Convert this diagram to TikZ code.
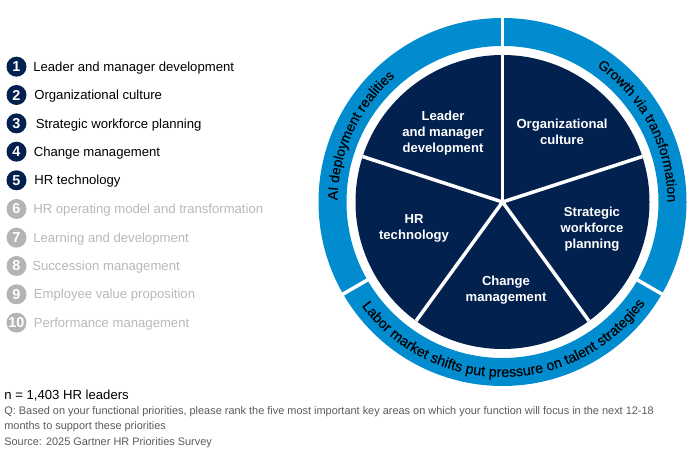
\documentclass[tikz,border=0pt]{standalone}
\usepackage{fontspec}
\usepackage{xcolor}
\usepackage{tikz}
\usetikzlibrary{decorations.text}
\setmainfont{Liberation Sans}
\newfontface\ringface[FakeBold=0.35]{Liberation Sans}
\definecolor{piecolor}{RGB}{2, 33, 79}
\definecolor{ringblue}{RGB}{0, 140, 207}
\definecolor{mutedgray}{RGB}{180, 180, 180}
\definecolor{mutedtext}{RGB}{184, 184, 184}
\definecolor{notegray}{RGB}{90, 90, 90}
\newcommand{\legendfont}{\fontsize{7.47}{9}\selectfont}
\newcommand{\piefont}{\fontsize{7.45}{9.07}\selectfont\bfseries}
\newcommand{\ringfont}{\ringface\fontsize{7.9}{9}\selectfont}
\newcommand{\lowringfont}{\ringface\fontsize{8.15}{9}\selectfont}
\begin{document}
\begin{tikzpicture}[
        topbadge/.style={circle, fill=piecolor, text=white, inner sep=0pt, minimum size=0.4cm, font=\fontsize{8.2}{9}\selectfont\bfseries},
        lowbadge/.style={circle, fill=mutedgray, text=white, inner sep=0pt, minimum size=0.4cm, font=\fontsize{8.2}{9}\selectfont\bfseries},
        toplabel/.style={anchor=west, inner sep=0pt, text=black, font=\legendfont},
        lowlabel/.style={anchor=west, inner sep=0pt, text=mutedtext, font=\legendfont},
        note/.style={anchor=west, inner sep=0pt, align=left, text=notegray, font=\fontsize{6.22}{8.4}\selectfont},
        pielabel/.style={inner sep=0pt, align=center, text=white, font=\piefont},
        spoke/.style={draw=white, line width=0.07cm},
        ringgap/.style={draw=white, line width=0.07cm}
    ]
    \useasboundingbox (0, 0) rectangle (14, 9.1);

    % Legend - top five
    \node[topbadge] (badge1) at (0.33, 7.766) {1};
    \node[topbadge] (badge2) at (0.33, 7.2) {2};
    \node[topbadge] (badge3) at (0.33, 6.632) {3};
    \node[topbadge] (badge4) at (0.33, 6.066) {4};
    \node[topbadge] (badge5) at (0.33, 5.494) {5};
    \node[toplabel] (item1) at (0.66, 7.74) {Leader and manager development};
    \node[toplabel] (item2) at (0.68, 7.175) {Organizational culture};
    \node[toplabel] (item3) at (0.71, 6.605) {Strategic workforce planning};
    \node[toplabel] (item4) at (0.67, 6.04) {Change management};
    \node[toplabel] (item5) at (0.68, 5.47) {HR technology};

    % Legend - the rest, greyed out
    \node[lowbadge] (badge6) at (0.33, 4.92) {6};
    \node[lowbadge] (badge7) at (0.33, 4.346) {7};
    \node[lowbadge] (badge8) at (0.33, 3.78) {8};
    \node[lowbadge] (badge9) at (0.33, 3.214) {9};
    \node[lowbadge] (badge10) at (0.33, 2.646) {10};
    \node[lowlabel] (item6) at (0.66, 4.895) {HR operating model and transformation};
    \node[lowlabel] (item7) at (0.66, 4.32) {Learning and development};
    \node[lowlabel] (item8) at (0.64, 3.755) {Succession management};
    \node[lowlabel] (item9) at (0.67, 3.19) {Employee value proposition};
    \node[lowlabel] (item10) at (0.67, 2.62) {Performance management};

    % Footer notes
    \node[anchor=west, inner sep=0pt, text=black, font=\legendfont] (sample) at (0.08, 1.19) {n = 1,403 HR leaders};
    \node[note] (question) at (0.08, 0.71) {Q: Based on your functional priorities, please rank the five most important key areas on which your function will focus in the next 12-18\\ months to support these priorities};
    \node[note] (source) at (0.08, 0.25) {Source: 2025 Gartner HR Priorities Survey};

    % Outer ring and pie
    \coordinate (hub) at (10.05, 5.06);
    \node[circle, draw=ringblue, line width=0.56cm, minimum size=6.8cm, inner sep=0pt, outer sep=0pt] (ring) at (hub) {};
    \node[circle, fill=piecolor, minimum size=5.88cm, inner sep=0pt, outer sep=0pt] (pie) at (hub) {};

    % Pie spokes
    \draw[spoke] (pie.center) -- (pie.90);
    \draw[spoke] (pie.center) -- (pie.18);
    \draw[spoke] (pie.center) -- (pie.-54);
    \draw[spoke] (pie.center) -- (pie.-126);
    \draw[spoke] (pie.center) -- (pie.162);

    % Gaps in the ring
    \path (hub) ++(90:3.06) coordinate (gapA) ++(90:0.72) coordinate (gapAend);
    \path (hub) ++(-30:3.06) coordinate (gapB) ++(-30:0.72) coordinate (gapBend);
    \path (hub) ++(210:3.06) coordinate (gapC) ++(210:0.72) coordinate (gapCend);
    \draw[ringgap] (gapA) -- (gapAend);
    \draw[ringgap] (gapB) -- (gapBend);
    \draw[ringgap] (gapC) -- (gapCend);

    % Pie labels
    \node[pielabel] (leader) at (8.86, 6.44) {Leader\\ and manager\\ development};
    \node[pielabel] (culture) at (11.24, 6.46) {Organizational\\ culture};
    \node[pielabel] (workforce) at (11.84, 4.52) {Strategic\\ workforce\\ planning};
    \node[pielabel] (technology) at (8.28, 4.54) {HR\\ technology};
    \node[pielabel] (change) at (10.12, 3.3) {Change\\ management};

    % Ring labels
    \path[decorate, decoration={text along path, text align=center, text={|\ringfont|AI deployment realities}}]
        ([shift={(hub)}]180:3.3) arc[start angle=180, end angle=130, radius=3.3];
    \path[decorate, decoration={text along path, text align=center, text={|\ringfont|Growth via transformation}}]
        ([shift={(hub)}]55:3.3) arc[start angle=55, end angle=0, radius=3.3];
    \path[decorate, decoration={text along path, text align=center, text={|\lowringfont|Labor market shifts put pressure on talent strategies}}]
        ([shift={(hub)}]-144.5:3.5) arc[start angle=-144.5, end angle=-34.5, radius=3.5];

\end{tikzpicture}
\end{document}
